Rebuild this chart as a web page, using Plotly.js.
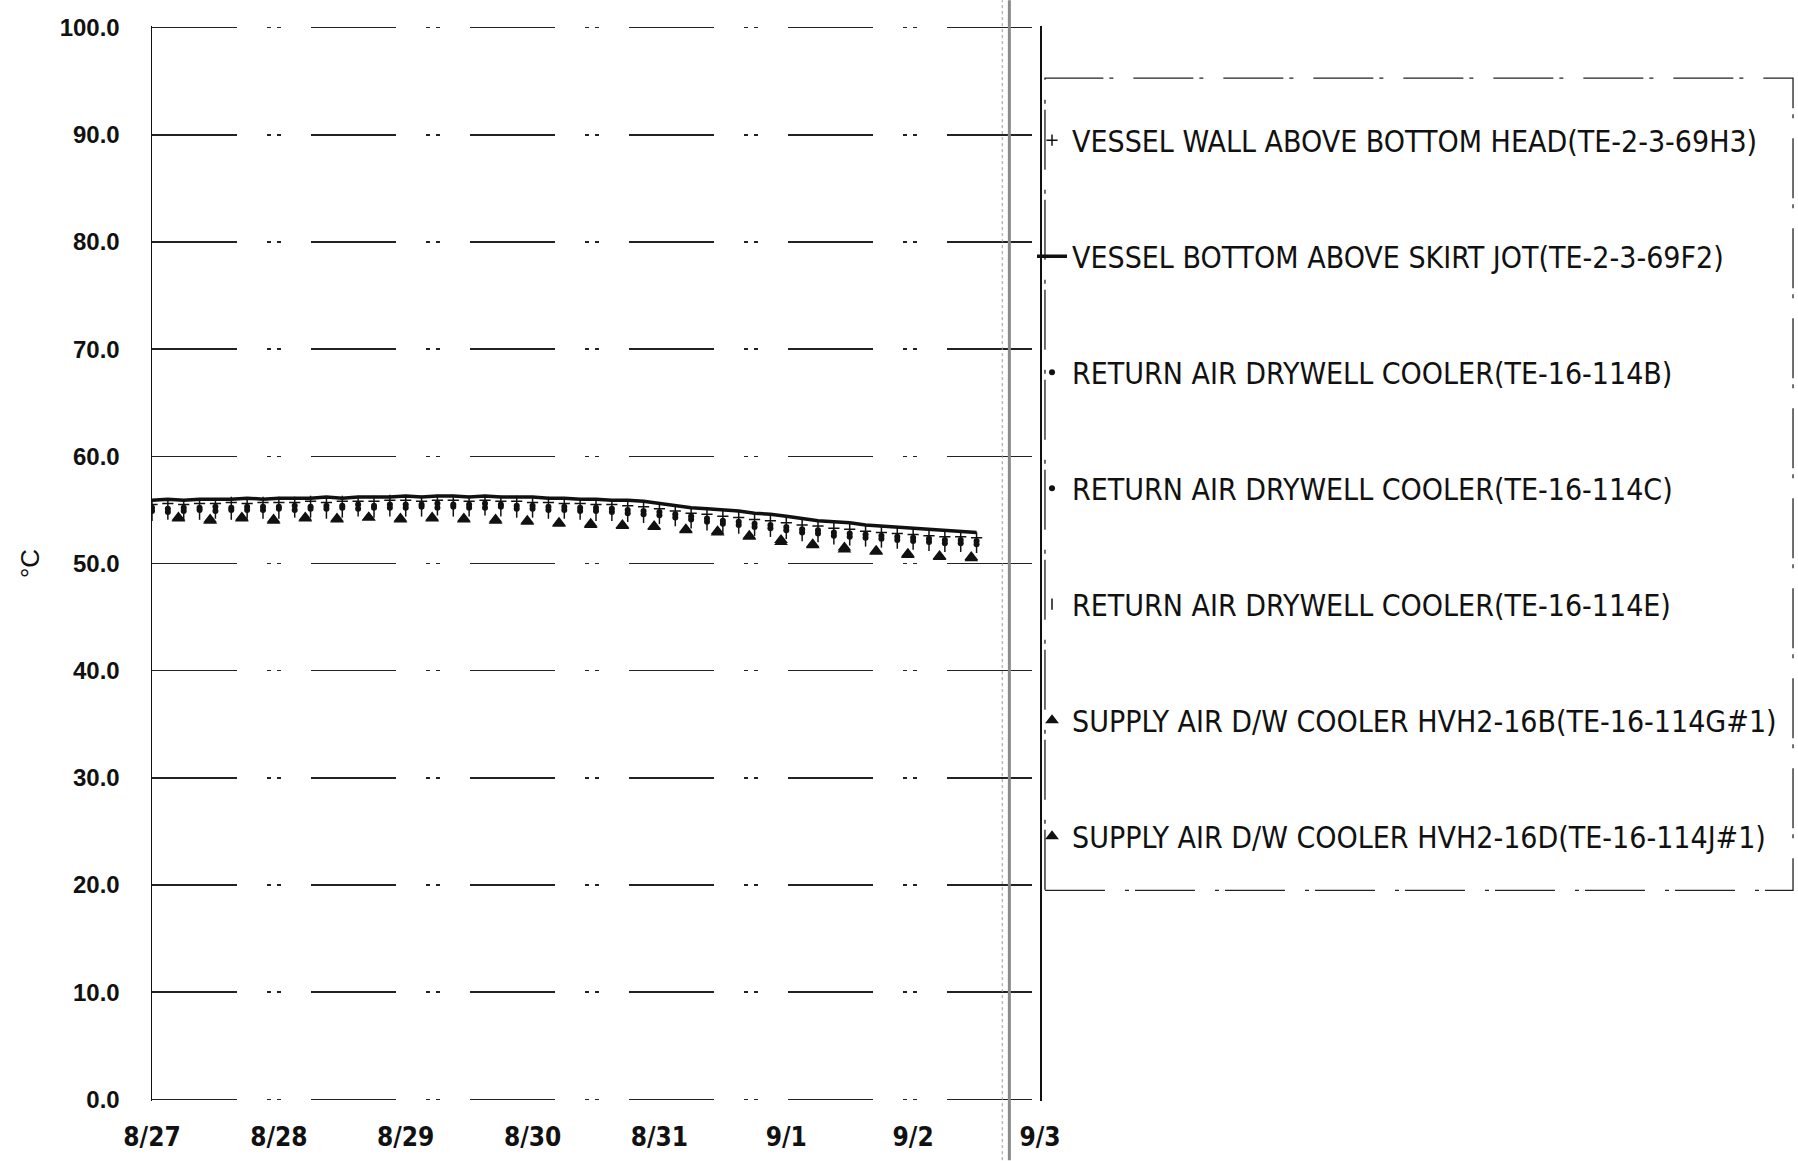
<!DOCTYPE html>
<html>
<head>
<meta charset="utf-8">
<script src="https://cdn.plot.ly/plotly-3.0.1.min.js"></script>
<style>
  html, body { margin: 0; padding: 0; background: #ffffff; }
  #chart { width: 1798px; height: 1161px; }
</style>
</head>
<body>
<div id="chart"></div>
<script>
// ---------- DATA ----------
// dense series: every 3 hours from 8/27 00:00 to 9/2 12:00
const denseStart = '2011-08-27T00:00:00Z';
const denseStepHours = 3;
// triangle series: every 6 hours from 8/27 05:00 to 9/2 11:00
const triStart = '2011-08-27T05:00:00Z';
const triStepHours = 6;

const seriesNames = [
  'VESSEL WALL ABOVE BOTTOM HEAD(TE-2-3-69H3)',
  'VESSEL BOTTOM ABOVE SKIRT JOT(TE-2-3-69F2)',
  'RETURN AIR DRYWELL COOLER(TE-16-114B)',
  'RETURN AIR DRYWELL COOLER(TE-16-114C)',
  'RETURN AIR DRYWELL COOLER(TE-16-114E)',
  'SUPPLY AIR D/W COOLER HVH2-16B(TE-16-114G#1)',
  'SUPPLY AIR D/W COOLER HVH2-16D(TE-16-114J#1)'
];

const vesselWall69H3 = [
  55.5,55.6,55.5,55.6,55.6,55.7,55.6,55.7,
  55.7,55.7,55.8,55.7,55.8,55.8,55.8,55.9,
  55.9,55.8,55.9,55.9,55.8,55.9,55.8,55.8,
  55.7,55.7,55.6,55.6,55.5,55.5,55.4,55.3,
  55.1,54.9,54.7,54.6,54.4,54.3,54.1,54.0,
  53.8,53.6,53.5,53.3,53.2,53.0,52.9,52.8,
  52.7,52.6,52.5,52.5,52.4
];
const vesselBottom69F2 = [
  55.9,56.0,55.9,56.0,56.0,56.0,56.1,56.0,
  56.1,56.1,56.1,56.2,56.1,56.2,56.2,56.2,
  56.3,56.2,56.3,56.3,56.2,56.3,56.2,56.2,
  56.2,56.1,56.1,56.0,56.0,55.9,55.9,55.8,
  55.6,55.4,55.2,55.1,55.0,54.9,54.7,54.6,
  54.4,54.2,54.0,53.9,53.8,53.6,53.5,53.4,
  53.3,53.2,53.1,53.0,52.9
];
const returnAir114B = [
  55.2,55.1,55.2,55.2,55.3,55.2,55.3,55.3,
  55.3,55.4,55.3,55.4,55.4,55.5,55.4,55.5,
  55.5,55.5,55.6,55.5,55.5,55.6,55.5,55.4,
  55.4,55.3,55.3,55.2,55.2,55.1,55.0,54.9,
  54.8,54.6,54.4,54.2,54.0,53.9,53.7,53.6,
  53.4,53.2,53.1,52.9,52.8,52.7,52.6,52.5,
  52.4,52.3,52.2,52.2,52.1
];
const returnAir114C = [
  54.9,54.8,54.9,55.0,54.9,55.0,55.0,55.0,
  55.1,55.0,55.1,55.1,55.2,55.1,55.2,55.2,
  55.2,55.3,55.2,55.3,55.2,55.2,55.3,55.1,
  55.1,55.0,55.0,54.9,54.9,54.8,54.7,54.6,
  54.5,54.3,54.1,53.9,53.7,53.6,53.4,53.3,
  53.1,52.9,52.8,52.6,52.5,52.4,52.3,52.2,
  52.1,52.0,51.9,51.9,51.8
];
const returnAir114E = [
  54.5,54.6,54.5,54.6,54.7,54.6,54.7,54.7,
  54.7,54.8,54.8,54.7,54.8,54.9,54.8,54.9,
  54.9,54.9,55.0,54.9,54.9,55.0,54.9,54.8,
  54.8,54.7,54.7,54.6,54.5,54.5,54.4,54.3,
  54.2,54.0,53.8,53.6,53.4,53.3,53.1,53.0,
  52.8,52.6,52.5,52.3,52.2,52.1,52.0,51.9,
  51.8,51.7,51.6,51.6,51.5
];
const supplyAir114G = [
  54.2,54.0,54.2,54.0,54.2,54.1,54.3,54.1,
  54.3,54.1,54.1,53.9,53.8,53.6,53.6,53.4,
  53.2,52.9,52.5,52.0,51.7,51.3,51.1,50.8,
  50.6,50.5
];
const supplyAir114J = [
  54.3,54.1,54.3,54.1,54.3,54.2,54.3,54.2,
  54.2,54.2,54.0,54.0,53.7,53.7,53.5,53.5,
  53.1,53.0,52.6,52.2,51.8,51.5,51.2,50.9,
  50.7,50.6
];

const yTickValues = [0,10,20,30,40,50,60,70,80,90,100];
const xTickValues = ['2011-08-27','2011-08-28','2011-08-29','2011-08-30','2011-08-31','2011-09-01','2011-09-02','2011-09-03'];
const xTickLabels = ['8/27','8/28','8/29','8/30','8/31','9/1','9/2','9/3'];

// ---------- helpers ----------
function pad(n){ return (n < 10 ? '0' : '') + n; }
function timeAxis(startIso, stepH, n){
  const t0 = Date.parse(startIso);
  const out = [];
  for (let i = 0; i < n; i++){
    const d = new Date(t0 + i * stepH * 3600000);
    out.push(d.getUTCFullYear() + '-' + pad(d.getUTCMonth()+1) + '-' + pad(d.getUTCDate()) +
             ' ' + pad(d.getUTCHours()) + ':' + pad(d.getUTCMinutes()));
  }
  return out;
}
const tDense = timeAxis(denseStart, denseStepHours, vesselWall69H3.length);
const tTri = timeAxis(triStart, triStepHours, supplyAir114G.length);

const legendFont = {family: '"Liberation Sans Narrow", "DejaVu Sans Condensed", "Liberation Sans", sans-serif', size: 30, color: '#111'};
const yTickFont = {family: '"Liberation Sans", Arial, sans-serif', size: 24, color: '#111', weight: 'bold'};
const xTickFont = {family: '"DejaVu Sans Condensed", "Liberation Sans", sans-serif', size: 26, color: '#111', weight: 'bold'};

const traces = [
  {x: tDense, y: vesselWall69H3, name: seriesNames[0], mode: 'markers',
   marker: {symbol: 'cross-thin-open', size: 8, color: '#111', line: {color: '#111', width: 1.5}}},
  {x: tDense, y: vesselBottom69F2, name: seriesNames[1], mode: 'lines',
   line: {color: '#111', width: 3.5}},
  {x: tDense, y: returnAir114B, name: seriesNames[2], mode: 'markers',
   marker: {symbol: 'circle', size: 6, color: '#111'}},
  {x: tDense, y: returnAir114C, name: seriesNames[3], mode: 'markers',
   marker: {symbol: 'circle', size: 6, color: '#111'}},
  {x: tDense, y: returnAir114E, name: seriesNames[4], mode: 'markers',
   marker: {symbol: 'line-ns-open', size: 8, color: '#111', line: {color: '#111', width: 1.5}}},
  {x: tTri, y: supplyAir114G, name: seriesNames[5], mode: 'markers',
   marker: {symbol: 'triangle-up', size: 12, color: '#111'}},
  {x: tTri, y: supplyAir114J, name: seriesNames[6], mode: 'markers',
   marker: {symbol: 'triangle-up', size: 12, color: '#111'}}
];
traces.forEach((t, i) => { t.legendgroup = 'g' + i; });

const layout = {
  width: 1798, height: 1161,
  paper_bgcolor: '#ffffff', plot_bgcolor: '#ffffff',
  margin: {l: 152, r: 758, t: 26, b: 60},
  showlegend: true,
  legend: {
    x: 0.991, xanchor: 'left', y: 0.918, yanchor: 'top',
    font: legendFont, tracegroupgap: 74, itemwidth: 30,
    bgcolor: 'rgba(0,0,0,0)', borderwidth: 0, traceorder: 'grouped'
  },
  xaxis: {
    type: 'date', range: ['2011-08-27', '2011-09-03'],
    tickmode: 'array', tickvals: xTickValues, ticktext: xTickLabels,
    showgrid: false, zeroline: false, showline: false,
    ticks: '', tickfont: xTickFont, ticklabelstandoff: 18
  },
  yaxis: {
    range: [-0.16, 100.16], tickmode: 'array', tickvals: yTickValues,
    tickformat: '.1f', tickfont: yTickFont,
    showgrid: true, gridcolor: '#222', gridwidth: 1.4,
    griddash: '85px,30px,4px,6px,4px,30px',
    zeroline: false, showline: true, linecolor: '#111', linewidth: 1.5,
    mirror: true, ticks: '', ticklabelstandoff: 26,
    title: {text: '°C', font: {family: '"Liberation Sans", sans-serif', size: 26, color: '#111'}, standoff: 12}
  },
  shapes: [
    // legend frame (dashed, as in the scan)
    {type: 'rect', xref: 'paper', yref: 'paper', x0: 1.0056, x1: 1.848, y0: 0.196, y1: 0.9516,
     line: {color: '#222', width: 1.3, dash: '60px,20px,4px,6px'}},
    // scan fold: grey double vertical line
    {type: 'line', xref: 'paper', yref: 'paper', x0: 0.9655, x1: 0.9655, y0: -0.055, y1: 1.024,
     line: {color: '#8a8a8a', width: 3}},
    {type: 'line', xref: 'paper', yref: 'paper', x0: 0.9575, x1: 0.9575, y0: -0.055, y1: 1.024,
     line: {color: '#9a9a9a', width: 1, dash: 'dot'}}
  ]
};

Plotly.newPlot('chart', traces, layout, {staticPlot: true, displayModeBar: false});
</script>
</body>
</html>
